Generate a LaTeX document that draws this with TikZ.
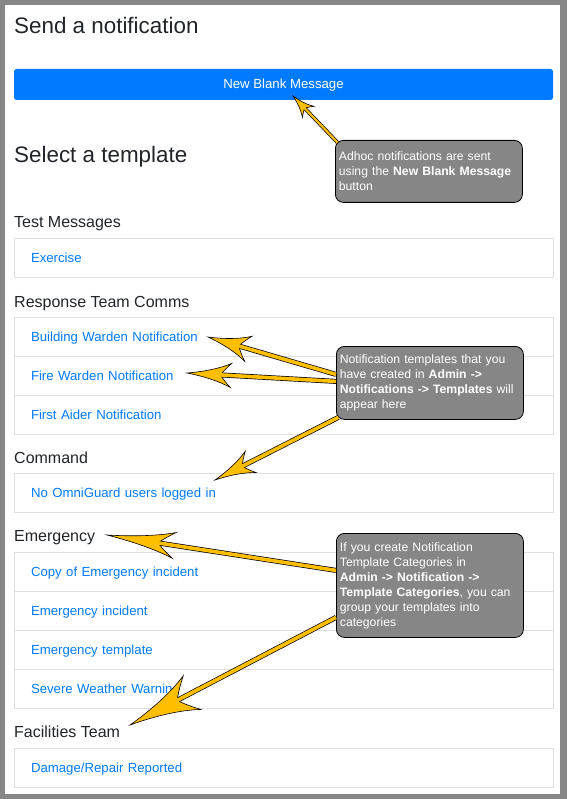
\documentclass[tikz,border=0pt]{standalone}
\usepackage{fontspec}
\setmainfont{Liberation Sans}
\usepackage{tikz}
\usetikzlibrary{positioning,decorations.markings}

\definecolor{inkdark}{HTML}{212529}
\definecolor{linkblue}{HTML}{007BFF}
\definecolor{rulegray}{HTML}{DFDFDF}
\definecolor{notegray}{HTML}{868686}
\definecolor{framegray}{HTML}{878787}
\definecolor{arrowyellow}{RGB}{255,190,0}

\newcommand{\headfont}{\fontsize{22.4}{26}\selectfont}
\newcommand{\groupfont}{\fontsize{16}{19}\selectfont}
\newcommand{\itemfont}{\fontsize{13.2}{16}\selectfont}
\newcommand{\notefont}{\fontsize{12.2}{15}\selectfont}

% #1 start on callout, #2 tip, #3 head length, #4 head half width, #5 shaft width
\newcommand{\pointer}[5]{%
	\pgfmathsetmacro{\outw}{#5+1.4}%
	\pgfmathsetmacro{\cutout}{0.55*#3}%
	\pgfmathsetmacro{\cutin}{0.7*#3}%
	\draw[black, line width=\outw pt, shorten >=\cutout pt] (#1) -- (#2);
	\path[decorate, decoration={markings, mark=at position 1 with {
		\filldraw[barb] (0,0) .. controls (-0.4*#3,0.2*#4) and (-0.75*#3,0.55*#4) .. (-#3,#4)
			.. controls (-0.86*#3,0.5*#4) and (-0.8*#3,0.2*#4) .. (-0.76*#3,0)
			.. controls (-0.8*#3,-0.2*#4) and (-0.86*#3,-0.5*#4) .. (-#3,-#4)
			.. controls (-0.75*#3,-0.55*#4) and (-0.4*#3,-0.2*#4) .. (0,0) -- cycle;}}] (#1) -- (#2);
	\draw[arrowyellow, line width=#5pt, shorten >=\cutin pt] (#1) -- (#2);
}

\begin{document}
\begin{tikzpicture}[x=1pt,y=-1pt,
	pagehead/.style={anchor=base west,inner sep=0pt,font=\headfont,text=inkdark},
	grouphead/.style={anchor=base west,inner sep=0pt,font=\groupfont,text=inkdark},
	itembox/.style={rectangle,draw=rulegray,line width=0.8pt,outer sep=0pt,minimum width=539pt,minimum height=39pt,text width=505pt,inner xsep=17pt,text height=11pt,text depth=1pt,align=left,font=\itemfont,text=linkblue},
	notebox/.style={rectangle,draw=black,line width=0.8pt,fill=notegray,rounded corners=8pt,text=white,text width=180pt,inner xsep=3.5pt,align=left,anchor=north west,font=\notefont},
	barb/.style={fill=arrowyellow,draw=black,line width=0.6pt}]
	
	\useasboundingbox (0,0) rectangle (567,799);
	\fill[framegray] (0,0) rectangle (567,799);
	\fill[white] (5,5) rectangle (560,794);
	
	\node [pagehead] (10) at (14,33.5) {Send a notification};
	\node [rectangle,fill=linkblue,rounded corners=2.5pt,minimum width=539pt,minimum height=31pt,text height=10.5pt,text depth=1.5pt,font=\itemfont,text=white] (17) at (283.5,84.5) {New Blank Message};
	\node [pagehead] (11) at (14,163) {Select a template};
	
	\node [grouphead] (12) at (14,228) {Test Messages};
	\node [itembox,anchor=north west] (0) at (14,238.3) {Exercise};
	
	\node [grouphead] (13) at (14,307) {Response Team Comms};
	\node [itembox,anchor=north west] (1) at (14,317.3) {Building Warden Notification};
	\node [itembox,below=0pt of 1] (2) {Fire Warden Notification};
	\node [itembox,below=0pt of 2] (3) {First Aider Notification};
	
	\node [grouphead] (14) at (14,463) {Command};
	\node [itembox,anchor=north west] (4) at (14,473.3) {No OmniGuard users logged in};
	
	\node [grouphead] (15) at (14,541.5) {Emergency};
	\node [itembox,anchor=north west] (5) at (14,552.3) {Copy of Emergency incident};
	\node [itembox,below=0pt of 5] (6) {Emergency incident};
	\node [itembox,below=0pt of 6] (7) {Emergency template};
	\node [itembox,below=0pt of 7] (8) {Severe Weather Warning};
	
	\node [grouphead] (16) at (14,737) {Facilities Team};
	\node [itembox,anchor=north west] (9) at (14,748.3) {Damage/Repair Reported};
	
	\node [notebox,minimum height=62pt] (18) at (335,140) {Adhoc notifications are sent\\using the \textbf{New Blank Message}\\button};
	\node [notebox,minimum height=73pt] (19) at (336,346) {Notification templates that you\\have created in \textbf{Admin ->}\\\textbf{Notifications -> Templates} will\\appear here};
	\node [notebox,minimum height=104pt] (20) at (336,533) {If you create Notification\\Template Categories in\\\textbf{Admin -> Notification ->}\\\textbf{Template Categories}, you can\\group your templates into\\categories};
	
	\coordinate (17b) at (293,96);
	\coordinate (1b) at (208,337);
	\coordinate (2b) at (187,373);
	\coordinate (4b) at (215,480);
	\coordinate (15b) at (107,535);
	\coordinate (16b) at (130,725);
	
	\pointer{[xshift=2.5pt,yshift=-2.5pt]18.north west}{17b}{22}{8}{2.2}
	\pointer{[yshift=8.5pt]19.west}{1b}{42}{13}{3.6}
	\pointer{[yshift=1.5pt]19.west}{2b}{44}{12}{3.6}
	\pointer{[xshift=2.5pt,yshift=2.5pt]19.south west}{4b}{40}{12}{3.6}
	\pointer{[yshift=15pt]20.west}{15b}{68}{13}{3.6}
	\pointer{[yshift=-32pt]20.west}{16b}{70}{19}{3.6}
\end{tikzpicture}
\end{document}
